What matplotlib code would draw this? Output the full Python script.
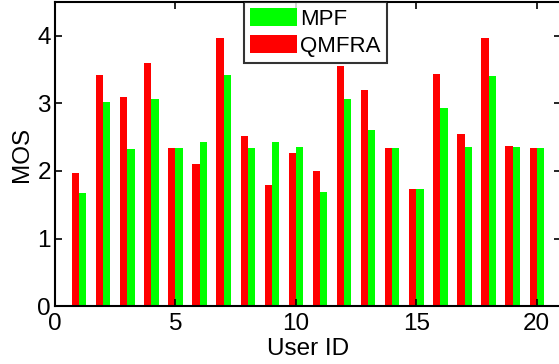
import matplotlib
matplotlib.use('Agg')
import matplotlib.pyplot as plt
import numpy as np

plt.rcParams['font.family'] = ['Liberation Sans', 'DejaVu Sans']

# 每个用户的 MOS
users = np.arange(1, 21)
qmfra = [1.97, 3.42, 3.09, 3.60, 2.34, 2.10, 3.96, 2.52, 1.79, 2.26,
         2.00, 3.55, 3.19, 2.34, 1.73, 3.43, 2.54, 3.96, 2.37, 2.34]
mpf = [1.67, 3.02, 2.32, 3.06, 2.34, 2.42, 3.42, 2.34, 2.43, 2.36,
       1.69, 3.06, 2.61, 2.34, 1.73, 2.93, 2.36, 3.41, 2.36, 2.34]

fig = plt.figure(figsize=(5.59, 3.64), dpi=100)
ax = fig.add_axes([0.0984, 0.159, 0.905, 0.836])

w = 0.3
b2 = ax.bar(users + w / 2, mpf, w, color='#00ff00', label='MPF')
b1 = ax.bar(users - w / 2, qmfra, w, color='#ff0000', label='QMFRA')

ax.set_xlim(0, 21)
ax.set_ylim(0, 4.5)
ax.set_xticks([0, 5, 10, 15, 20])
ax.set_yticks([0, 1, 2, 3, 4])
ax.tick_params(direction='in', length=5, width=1.2, labelsize=17.5,
               top=True, right=True)
ax.tick_params(axis='x', pad=5)
ax.tick_params(axis='y', pad=3)
for s in ax.spines.values():
    s.set_linewidth(1.5)

ax.set_xlabel('User ID', fontsize=17.5, labelpad=2)
ax.set_ylabel('MOS', fontsize=17.5, labelpad=3)

leg = ax.legend(handles=[b2, b1], loc='upper left',
                bbox_to_anchor=(244 / 559, 1 - 2 / 364),
                bbox_transform=fig.transFigure, fontsize=16,
                frameon=True, fancybox=False, edgecolor='black',
                borderaxespad=0, handlelength=2.1, handleheight=0.85,
                handletextpad=0.15, borderpad=0.28, labelspacing=0.25)
leg.get_frame().set_linewidth(1.5)

plt.savefig('out.png', dpi=100)
